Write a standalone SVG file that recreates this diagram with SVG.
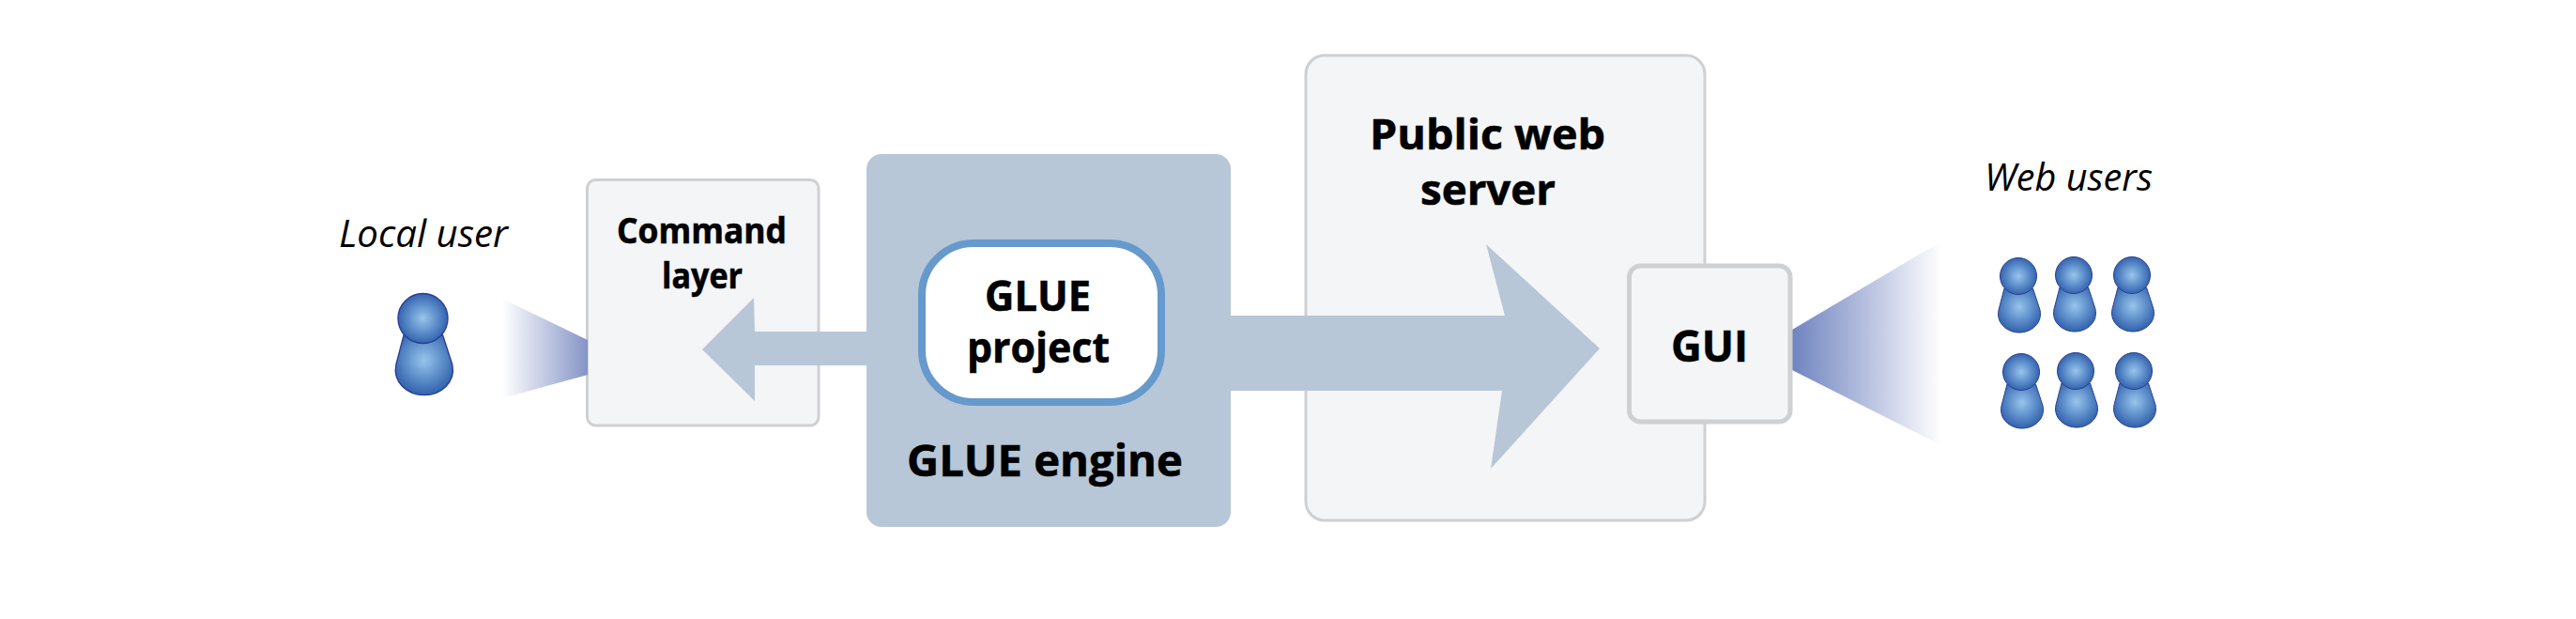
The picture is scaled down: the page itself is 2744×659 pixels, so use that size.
<svg xmlns="http://www.w3.org/2000/svg" xmlns:xlink="http://www.w3.org/1999/xlink" width="2744" height="659" viewBox="0 0 2744 659">
<style>
.b{font-family:"Open Sans","Noto Sans",sans-serif;font-weight:700;fill:#000;stroke:#000;stroke-width:.6}
.i{font-family:"Open Sans","Noto Sans",sans-serif;font-style:italic;font-weight:400;fill:#000;font-size:41px}
.light{fill:#f4f5f7;stroke:#cfd0d2;stroke-width:3}
.arrow{fill:#b7c7d7}
.p{stroke:#2b3e93;stroke-width:1}
</style>
<defs>
<radialGradient id="pg" cx="0.5" cy="0.5" r="0.55"><stop offset="0" stop-color="#96c5ec"/><stop offset="1" stop-color="#2a5ba9"/></radialGradient>
<radialGradient id="pb" cx="0.5" cy="0.42" r="0.62"><stop offset="0" stop-color="#96c5ec"/><stop offset="1" stop-color="#2a5ba9"/></radialGradient>
<linearGradient id="bl" x1="0" x2="1" y1="0" y2="0"><stop offset="0" stop-color="#fff"/><stop offset="1" stop-color="#8594c6"/></linearGradient>
<linearGradient id="br" x1="0" x2="1" y1="0" y2="0"><stop offset="0" stop-color="#6f83bf"/><stop offset="1" stop-color="#fff"/></linearGradient>
<g id="person">
<path class="p" fill="url(#pb)" d="M-15,13 L-21,36 C-24,50 -12,60 1,60 C14,60 26,50 23,36 L15.500,13 Z"/>
<circle class="p" fill="url(#pg)" cx="0" cy="0" r="19.5"/>
</g>
</defs>
<g id="public-web-server">
<rect class="light" x="1391" y="59" width="425" height="495" rx="20"/>
<text class="b" font-size="45" x="1459" y="159" textLength="251" lengthAdjust="spacingAndGlyphs">Public web</text>
<text class="b" font-size="45" x="1513" y="218" textLength="144" lengthAdjust="spacingAndGlyphs">server</text>
</g>
<g id="command-layer">
<rect class="light" x="625.500" y="191.500" width="246.500" height="261.500" rx="9"/>
<text class="b" font-size="38" x="657" y="259" textLength="181" lengthAdjust="spacingAndGlyphs">Command</text>
<text class="b" font-size="38" x="705" y="307" textLength="86" lengthAdjust="spacingAndGlyphs">layer</text>
</g>
<g id="connectors">
<path class="arrow" d="M930,353 L804,353 L803,317 L748,372 L804,427 L804,389 L930,389 Z"/>
<path class="arrow" d="M1300,336 L1603,336 L1583,260 L1704,371 L1588,499 L1600,416 L1300,416 Z"/>
<path fill="url(#bl)" d="M535,318 L626,362 L626,399 L535,424 Z"/>
<path fill="url(#br)" d="M1909,351 L2068,257 L2068,474 L1909,394 Z"/>
</g>
<g id="glue-engine">
<rect class="arrow" x="923" y="164" width="388" height="397" rx="16"/>
<text class="b" font-size="46" x="966" y="507" textLength="294" lengthAdjust="spacingAndGlyphs">GLUE engine</text>
</g>
<g id="glue-project">
<rect x="982" y="259" width="255" height="169" rx="55" fill="#fff" stroke="#6699cc" stroke-width="8"/>
<text class="b" font-size="44" x="1049" y="331" textLength="113" lengthAdjust="spacingAndGlyphs">GLUE</text>
<text class="b" font-size="44" x="1030" y="386" textLength="152" lengthAdjust="spacingAndGlyphs">project</text>
</g>
<g id="gui">
<rect x="1735.500" y="283" width="171.500" height="166" rx="12" fill="#f4f5f7" stroke="#cfd0d2" stroke-width="5"/>
<text class="b" font-size="46" x="1780" y="385" textLength="82" lengthAdjust="spacingAndGlyphs">GUI</text>
</g>
<g id="local-user">
<text class="i" x="361" y="263" textLength="180" lengthAdjust="spacingAndGlyphs">Local user</text>
<use href="#person" transform="translate(450.500,339) scale(1.36)"/>
</g>
<g id="web-users">
<text class="i" x="2114" y="203" textLength="179" lengthAdjust="spacingAndGlyphs">Web users</text>
<use href="#person" x="2150" y="294"/>
<use href="#person" x="2209" y="293"/>
<use href="#person" x="2271" y="293"/>
<use href="#person" x="2153" y="396"/>
<use href="#person" x="2211" y="395"/>
<use href="#person" x="2273" y="395"/>
</g>
</svg>
